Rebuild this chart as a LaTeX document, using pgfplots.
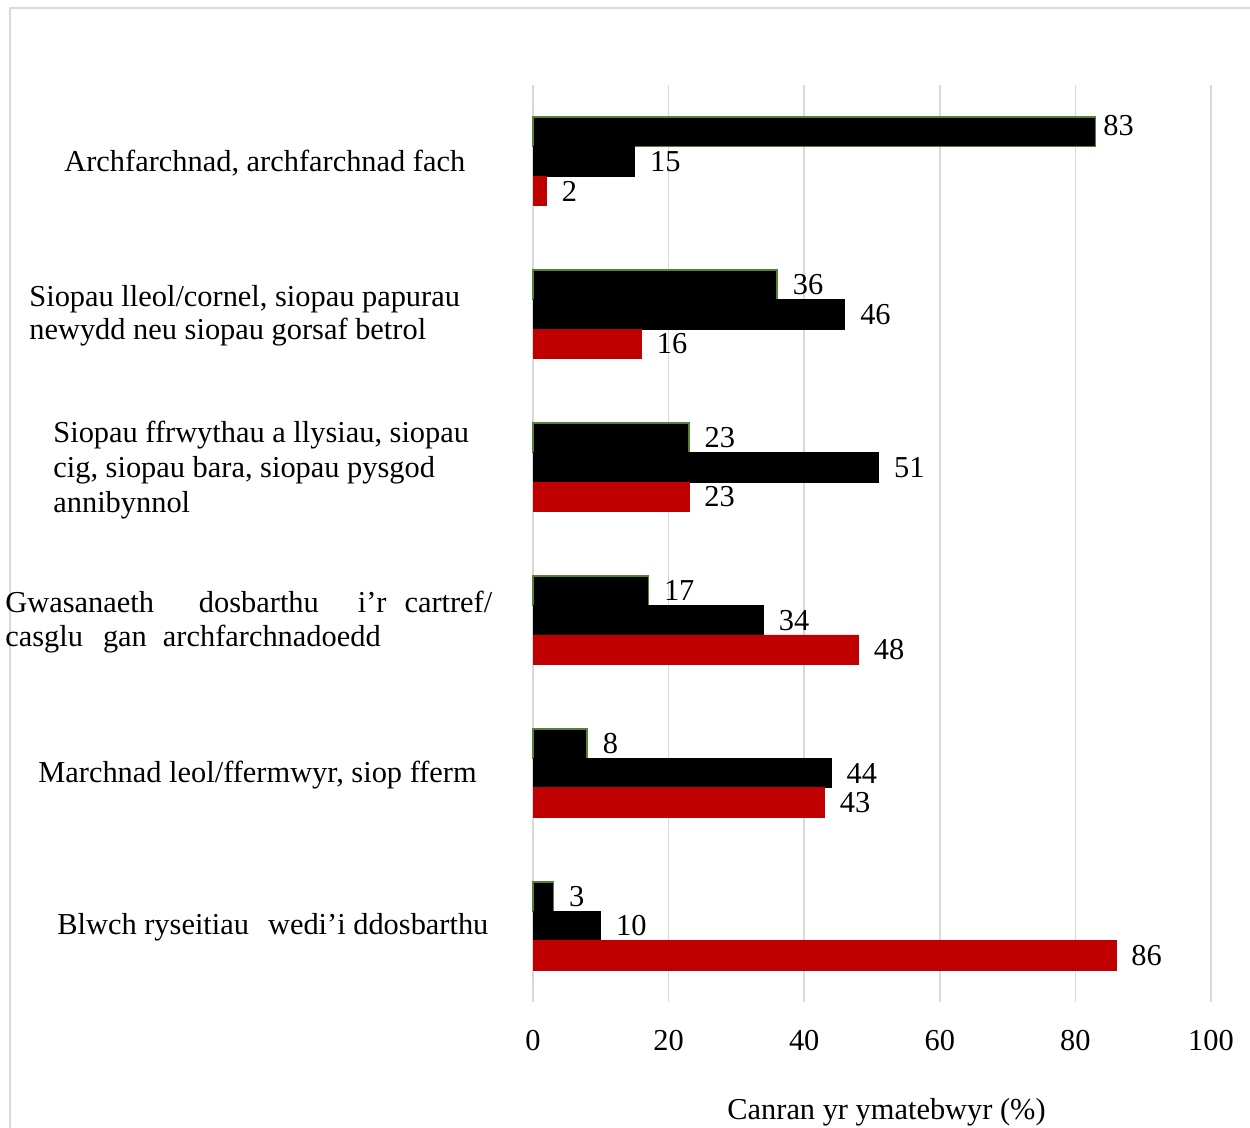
\documentclass[border=0pt]{standalone}
\usepackage{fontspec}
\setmainfont{Liberation Serif}
\usepackage{pgfplots}
\pgfplotsset{compat=1.18}
\definecolor{gridc}{HTML}{D9D9D9}
\definecolor{barred}{HTML}{C00000}
\definecolor{bargreen}{HTML}{548235}
\begin{document}
\fontsize{15.2}{17.5}\selectfont
\begin{tikzpicture}[font=\fontsize{15.2}{17.5}\selectfont]
\useasboundingbox (0,0) rectangle (625pt,564pt);
\draw[gridc, line width=0.8pt] (5pt,0) -- (5pt,560pt) -- (625pt,560pt);
\begin{axis}[
  at={(266.5pt,62.75pt)}, anchor=south west,
  scale only axis, width=339pt, height=458.75pt,
  xbar, bar width=14.75pt,
  xmin=0, xmax=100, ymin=-0.5, ymax=5.5,
  xtick={0,20,...,100},
  ytick=\empty,
  axis line style={draw=none},
  major tick length=0pt,
  xmajorgrids, grid style={gridc, line width=0.8pt},
  xticklabel style={anchor=north, inner sep=0pt, yshift=-13.6pt},
  /pgf/number format/assume math mode=true,
  nodes near coords,
  nodes near coords style={anchor=west, inner sep=0pt, xshift=7.5pt, text=black},
  clip=false,
]
\addplot[fill=black, draw=bargreen, line width=0.75pt, bar shift=14.75pt,
  coordinate style/.condition={x>80}{xshift=-4pt, yshift=3pt}] coordinates {(83,5) (36,4) (23,3) (17,2) (8,1) (3,0)};
\addplot[fill=black, draw=black, bar shift=0pt] coordinates {(15,5) (46,4) (51,3) (34,2) (44,1) (10,0)};
\addplot[fill=barred, draw=barred, bar shift=-14.75pt] coordinates {(2,5) (16,4) (23,3) (48,2) (43,1) (86,0)};
\end{axis}
\node[anchor=base west, inner sep=0pt] at (32pt,478pt) {Archfarchnad, archfarchnad fach};
\node[anchor=base west, inner sep=0pt] at (14.5pt,410.5pt) {Siopau lleol/cornel, siopau papurau};
\node[anchor=base west, inner sep=0pt] at (14.5pt,394pt) {newydd neu siopau gorsaf betrol};
\node[anchor=base west, inner sep=0pt] at (26.5pt,342.5pt) {Siopau ffrwythau a llysiau, siopau};
\node[anchor=base west, inner sep=0pt] at (26.5pt,325pt) {cig, siopau bara, siopau pysgod};
\node[anchor=base west, inner sep=0pt] at (26.5pt,307.5pt) {annibynnol};
\node[anchor=base west, inner sep=0pt] at (2.5pt,257.5pt) {Gwasanaeth\hspace{22.5pt}dosbarthu\hspace{19.5pt}i’r\hspace{9pt}cartref/};
\node[anchor=base west, inner sep=0pt] at (2.5pt,240.5pt) {casglu\hspace{10pt}gan\hspace{8pt}archfarchnadoedd};
\node[anchor=base west, inner sep=0pt] at (19pt,172.5pt) {Marchnad leol/ffermwyr, siop fferm};
\node[anchor=base west, inner sep=0pt] at (28.5pt,96.5pt) {Blwch ryseitiau\hspace{9.5pt}wedi’i ddosbarthu};
\node[anchor=base west, inner sep=0pt] at (363.5pt,4pt) {Canran yr ymatebwyr (\%)};
\end{tikzpicture}
\end{document}
